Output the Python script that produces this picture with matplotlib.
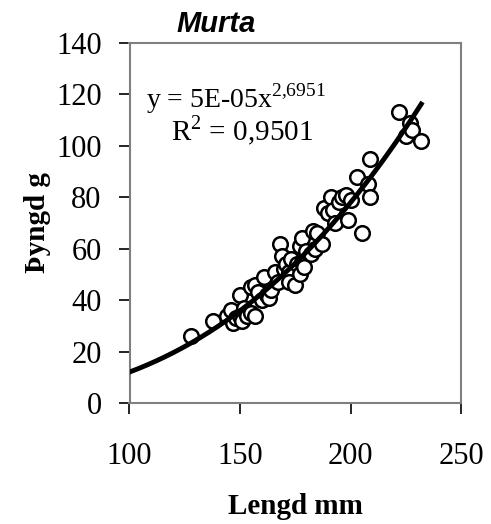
import numpy as np
import matplotlib
matplotlib.use("Agg")
import matplotlib.pyplot as plt

length_mm = [128, 138, 144, 146, 147, 148, 150, 150, 151, 152, 153, 155, 155, 157, 157, 158,
             160, 161, 162, 163, 164, 166, 167, 168, 169, 170, 171, 172, 172, 173, 175, 176,
             177, 177, 178, 178, 179, 180, 182, 183, 184, 185, 187, 188, 190, 191, 192, 193,
             195, 196, 198, 199, 200, 203, 205, 208, 209, 209, 222, 225, 227, 228, 232]
weight_g = [26, 32, 34, 36, 31, 33, 42, 34, 32, 37, 34, 35, 45, 46, 34, 43,
            40, 49, 42, 41, 44, 51, 47, 62, 57, 52, 54, 51, 47, 56, 46, 54,
            61, 50, 55, 64, 53, 59, 58, 67, 60, 66, 62, 76, 74, 80, 75, 70,
            78, 80, 81, 71, 79, 88, 66, 85, 80, 95, 113, 104, 109, 106, 102]

fit_a = 4.9e-5
fit_b = 2.6951
fit_range = (100, 232)

x_ticks = [100, 150, 200, 250]
y_ticks = [0, 20, 40, 60, 80, 100, 120, 140]

fig = plt.figure(figsize=(4.91, 5.24), dpi=100)
ax = fig.add_axes([129.5/491, 1-403/524, (461-129.5)/491, (403-43)/524])

serif = ['Liberation Serif', 'DejaVu Serif']

ax.plot(length_mm, weight_g, linestyle='none', marker='o', markersize=10.5,
        markerfacecolor='white', markeredgecolor='black', markeredgewidth=1.8, zorder=3)

xf = np.linspace(fit_range[0], fit_range[1], 200)
ax.plot(xf, fit_a * xf**fit_b, color='black', linewidth=3.5, zorder=4)

ax.set_xlim(100, 250)
ax.set_ylim(0, 140)
ax.set_xticks(x_ticks)
ax.set_yticks(y_ticks)
for s in ax.spines.values():
    s.set_color('#7f7f7f')
    s.set_linewidth(1.5)
ax.tick_params(direction='out', length=8, width=1.2, color='black')
for lab in ax.get_xticklabels() + ax.get_yticklabels():
    lab.set_family(serif)
    lab.set_fontsize(22)
ax.tick_params(axis='x', pad=20)
ax.tick_params(axis='y', pad=12)

ax.set_xlabel('Lengd mm', family=serif, fontsize=21, fontweight='bold', labelpad=16)
ax.set_ylabel('Þyngd g', family=serif, fontsize=21, fontweight='bold', labelpad=4)

fig.text(216/491, 1-24/524, 'Murta', family=['Liberation Sans', 'DejaVu Sans'],
         fontsize=21, fontweight='bold', fontstyle='italic', ha='center', va='center')

ax.text(0.05, 0.82, 'y = 5E-05x$^{\\mathregular{2{,}6951}}$', transform=ax.transAxes,
        family=serif, fontsize=20, va='baseline', ha='left')
ax.text(0.125, 0.73, 'R$^{\\mathregular{2}}$ = 0,9501', transform=ax.transAxes,
        family=serif, fontsize=21, va='baseline', ha='left')

fig.savefig('out.png', dpi=100)
